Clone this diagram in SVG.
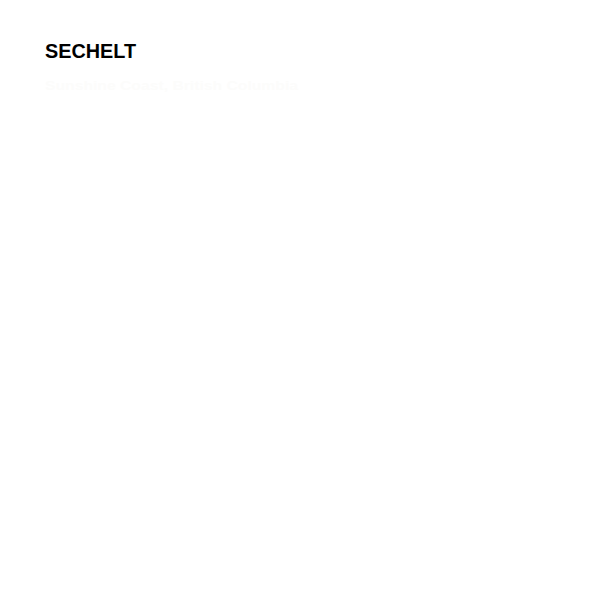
<svg xmlns="http://www.w3.org/2000/svg" width="600" height="600" viewBox="0 0 600 600">
<style>
.title{font-family:"Liberation Sans","Arial",sans-serif;font-weight:700;font-size:20px;fill:#000}
.sub{font-family:"Liberation Sans","Arial",sans-serif;font-weight:700;font-size:13px;fill:#fcfcfb}
</style>
<rect width="600" height="600" fill="#ffffff"/>
<g id="header">
<text class="title" x="45" y="58" textLength="91" lengthAdjust="spacingAndGlyphs">SECHELT</text>
<text class="sub" x="45" y="90" textLength="253" lengthAdjust="spacingAndGlyphs">Sunshine Coast, British Columbia</text>
</g>
</svg>
